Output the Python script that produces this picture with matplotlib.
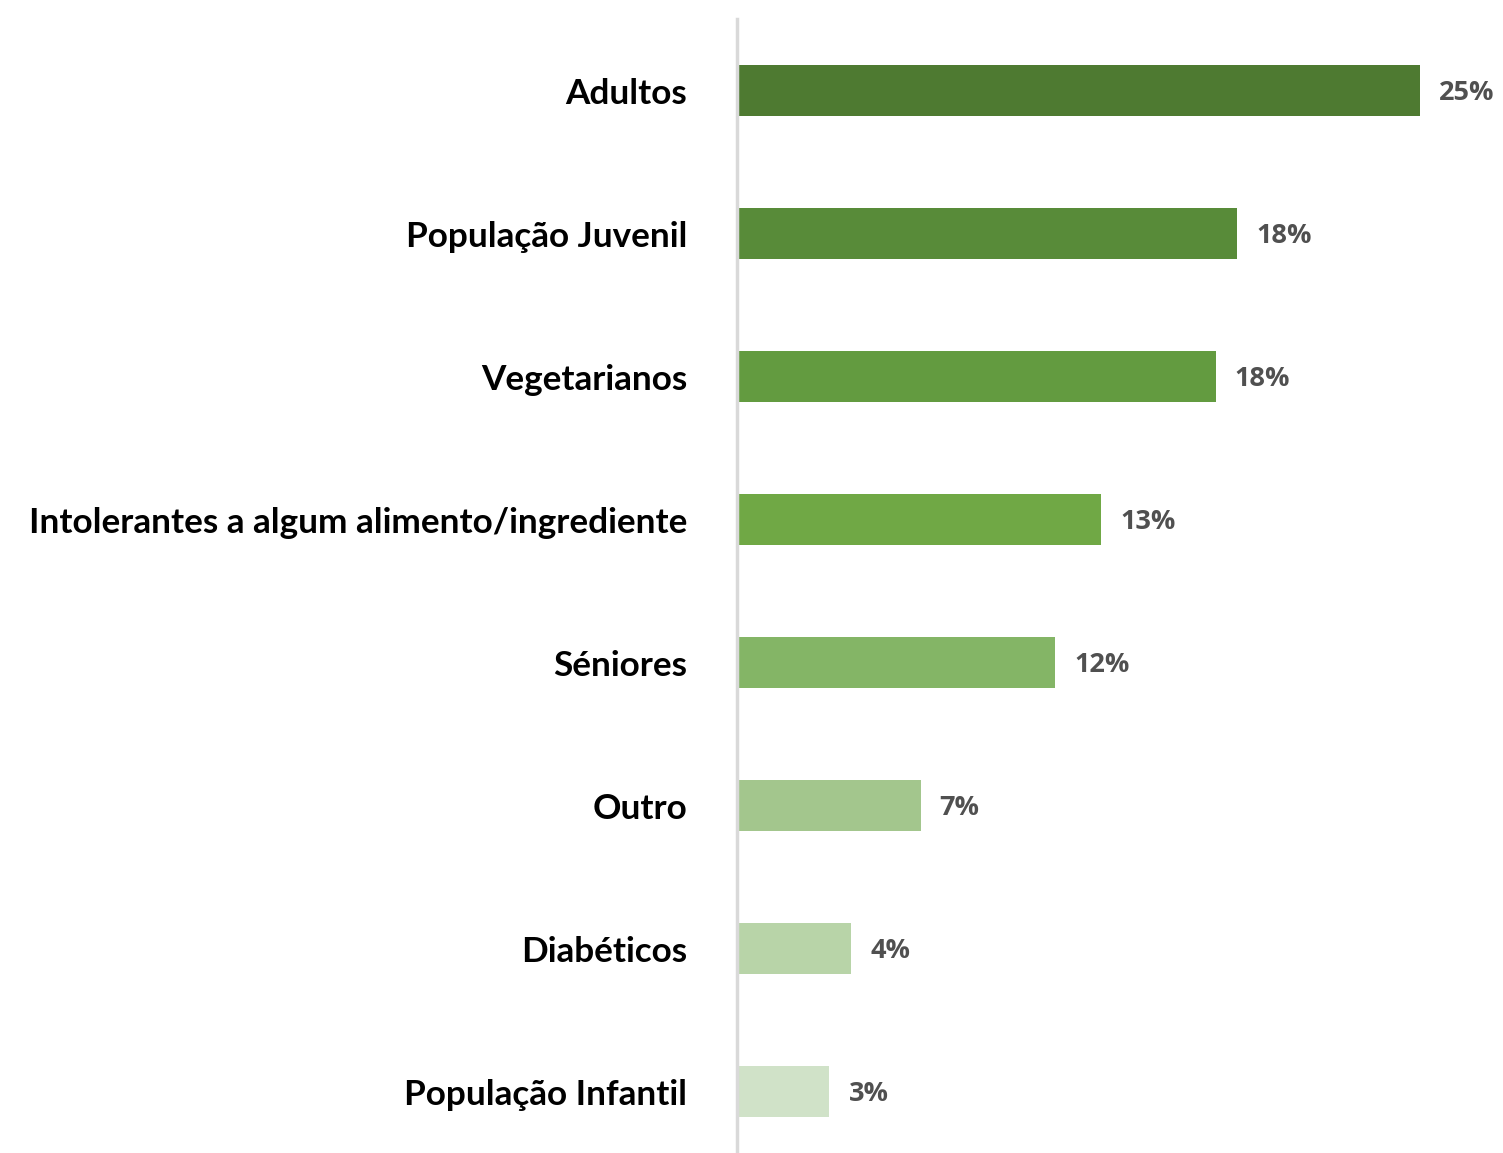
import matplotlib
matplotlib.use("Agg")
import matplotlib.pyplot as plt

categories = ["Adultos", "População Juvenil", "Vegetarianos",
              "Intolerantes a algum alimento/ingrediente", "Séniores",
              "Outro", "Diabéticos", "População Infantil"]
values = [25.05, 18.35, 17.55, 13.35, 11.65, 6.7, 4.15, 3.35]
labels = ["25%", "18%", "18%", "13%", "12%", "7%", "4%", "3%"]
colors = ["#4e7a31", "#588b39", "#639b40", "#70a845",
          "#84b566", "#a3c68d", "#b8d4a8", "#d0e2c8"]

fig = plt.figure(figsize=(15.03, 11.53), dpi=100)
ax = fig.add_axes([737 / 1503, 0, 1 - 737 / 1503, 1 - 19 / 1153])

y = list(range(len(categories)))
ax.barh(y, values, height=0.35, color=colors, left=0.05)
for yi, v, lab in zip(y, values, labels):
    ax.text(v + 0.75, yi + 0.02, lab, va="center", ha="left",
            fontsize=19.5, fontweight="bold", color="#505050", family="Open Sans")

ax.set_xlim(0, 766 / 27.2)
ax.set_ylim(7.43, -0.5)
ax.set_yticks(y)
ax.set_yticklabels(categories, fontsize=25.3, fontweight="bold", family="Lato",
                   va="center_baseline")
ax.tick_params(axis="y", length=0, pad=36)
ax.set_xticks([])
for s in ["top", "right", "bottom"]:
    ax.spines[s].set_visible(False)
ax.spines["left"].set_color("#d9d9d9")
ax.spines["left"].set_linewidth(2.5)

fig.savefig("out.png", dpi=100)
